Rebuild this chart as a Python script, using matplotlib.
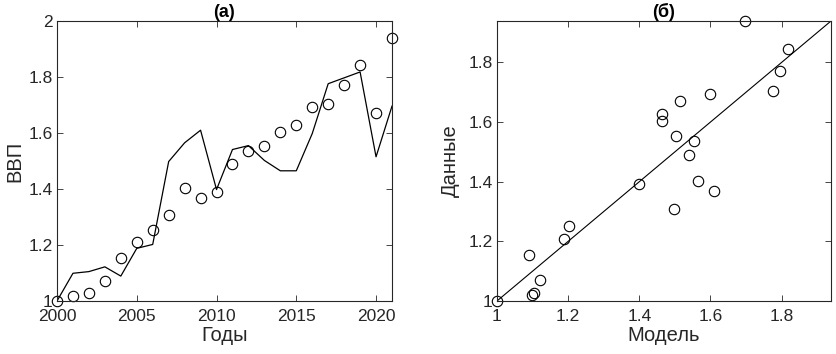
import matplotlib
matplotlib.use('Agg')
import matplotlib.pyplot as plt

plt.rcParams['font.family'] = ['Liberation Sans', 'DejaVu Sans']

# years and values
years = list(range(2000, 2022))
data = [1.000, 1.019, 1.027, 1.071, 1.155, 1.209, 1.253, 1.308, 1.403, 1.369, 1.391,
        1.490, 1.536, 1.552, 1.602, 1.628, 1.693, 1.705, 1.771, 1.844, 1.672, 1.939]
model = [1.000, 1.099, 1.105, 1.122, 1.089, 1.188, 1.202, 1.498, 1.565, 1.610, 1.398,
         1.541, 1.555, 1.502, 1.465, 1.465, 1.598, 1.776, 1.797, 1.818, 1.515, 1.696]

xticks_a = [2000, 2005, 2010, 2015, 2020]
yticks_a = [1, 1.2, 1.4, 1.6, 1.8, 2]
ticks_b = [1, 1.2, 1.4, 1.6, 1.8]

W, H = 837, 354
fig = plt.figure(figsize=(W / 100, H / 100), dpi=100)
ax1 = fig.add_axes([57 / W, 53 / H, 335 / W, 280 / H])
ax2 = fig.add_axes([497 / W, 53 / H, 334 / W, 280 / H])

txt = '#262626'

def style(ax):
    ax.tick_params(direction='in', top=True, right=True, labelsize=12.5, length=4,
                   width=0.6, colors=txt)
    ax.tick_params(axis='x', pad=6)
    ax.tick_params(axis='y', pad=3)
    for s in ax.spines.values():
        s.set_linewidth(0.8)
        s.set_color(txt)

# (a) time series
ax1.plot(years, model, color='black', lw=0.9)
ax1.plot(years, data, 'o', mfc='none', mec='black', ms=7.5, mew=0.8, clip_on=False)
ax1.set_xlim(2000, 2021)
ax1.set_ylim(1, 2)
ax1.set_xticks(xticks_a)
ax1.set_yticks(yticks_a)
ax1.set_yticklabels(['1', '1.2', '1.4', '1.6', '1.8', '2'])
ax1.set_xlabel('Годы', fontsize=14.5, labelpad=1, color=txt)
ax1.set_ylabel('ВВП', fontsize=14.5, labelpad=3, color=txt)
ax1.set_title('(а)', fontsize=13, fontweight='bold', pad=3)
style(ax1)

# (б) data vs model
lim = max(data)
ax2.plot([1, lim], [1, lim], color='black', lw=0.8)
ax2.plot(model, data, 'o', mfc='none', mec='black', ms=7.5, mew=0.8, clip_on=False)
ax2.set_xlim(1, lim)
ax2.set_ylim(1, lim)
ax2.set_xticks(ticks_b)
ax2.set_yticks(ticks_b)
ax2.set_xticklabels(['1', '1.2', '1.4', '1.6', '1.8'])
ax2.set_yticklabels(['1', '1.2', '1.4', '1.6', '1.8'])
ax2.set_xlabel('Модель', fontsize=14.5, labelpad=1, color=txt)
ax2.set_ylabel('Данные', fontsize=14.5, labelpad=6, color=txt)
ax2.set_title('(б)', fontsize=13, fontweight='bold', pad=3)
style(ax2)

fig.savefig('out.png', dpi=100)
